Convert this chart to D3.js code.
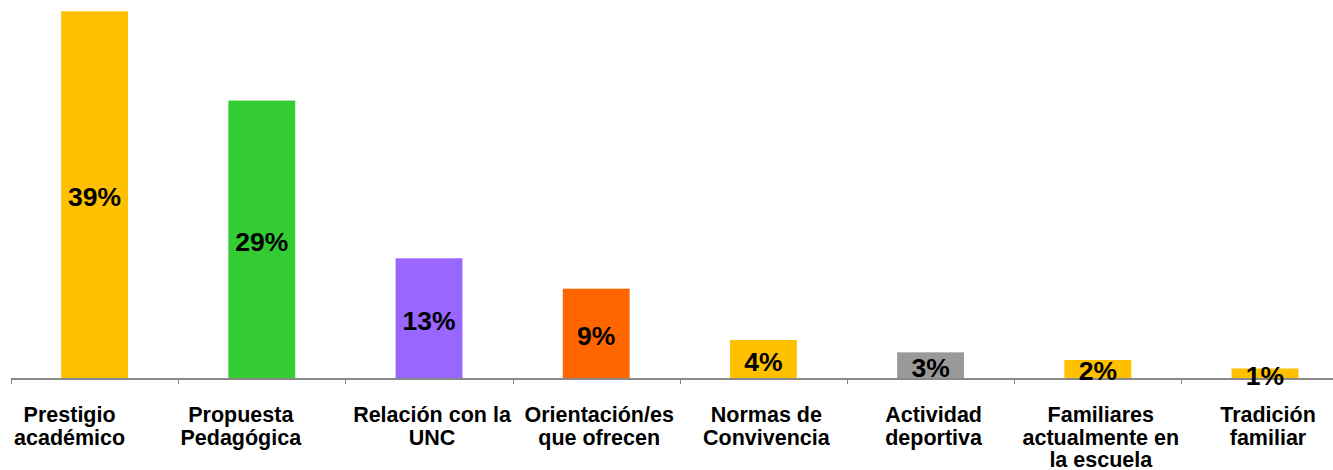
<!DOCTYPE html>
<html>
<head>
<meta charset="utf-8">
<script src="https://cdn.jsdelivr.net/npm/d3@7"></script>
<style>
  html, body { margin: 0; padding: 0; background: #fff; }
  svg { display: block; }
  text { font-family: "Liberation Sans", Arial, sans-serif; font-weight: bold; fill: #000; }
</style>
</head>
<body>
<svg id="chart" width="1333" height="470"></svg>
<script>
const categories = [
  "Prestigio académico",
  "Propuesta Pedagógica",
  "Relación con la UNC",
  "Orientación/es que ofrecen",
  "Normas de Convivencia",
  "Actividad deportiva",
  "Familiares actualmente en la escuela",
  "Tradición familiar"
];
const values = [38.6, 29.2, 12.6, 9.4, 4.0, 2.7, 1.9, 1.0];
const colors = ["#FFC000", "#33CC33", "#9966FF", "#FF6600", "#FFC000", "#999999", "#FFC000", "#FFC000"];

const svg = d3.select("#chart");
const baseY = 378;

const x = d3.scaleBand()
  .domain(categories)
  .range([11, 1348.6])
  .paddingInner(0.6)
  .paddingOuter(0.3);

const y = d3.scaleLinear()
  .domain([0, 40])
  .range([baseY, baseY - 380]);

const data = categories.map((c, i) => ({ c, v: values[i], color: colors[i], i }));

// bars
svg.append("g").selectAll("rect")
  .data(data)
  .join("rect")
  .attr("x", d => x(d.c))
  .attr("width", x.bandwidth())
  .attr("y", d => y(d.v))
  .attr("height", d => y(0) - y(d.v))
  .attr("fill", d => d.color);

// axis line and boundary ticks
const step = x.step();
const boundaries = categories.map(c => x(c) - step * 0.3);
const axisG = svg.append("g");
axisG.append("line")
  .attr("x1", 11).attr("x2", 1333)
  .attr("y1", baseY + 1).attr("y2", baseY + 1)
  .attr("stroke", "#888888").attr("stroke-width", 2);
axisG.selectAll("line.tick")
  .data(boundaries)
  .join("line")
  .attr("class", "tick")
  .attr("x1", d => Math.round(d) + 0.5).attr("x2", d => Math.round(d) + 0.5)
  .attr("y1", baseY + 1).attr("y2", baseY + 6)
  .attr("stroke", "#888888").attr("stroke-width", 1);

// value labels
const fmt = d => Math.round(d) + "%";
svg.append("g").selectAll("text")
  .data(data)
  .join("text")
  .attr("x", d => x(d.c) + x.bandwidth() / 2)
  .attr("y", d => (y(d.v) + y(0)) / 2 + 11.5)
  .attr("text-anchor", "middle")
  .style("font-size", "26.5px")
  .text(d => fmt(d.v));

// category labels with wrapping
const labelShift = i => (i === 0 ? -25 : i === 1 ? -21 : 3);
const catG = svg.append("g");
data.forEach(d => {
  const t = catG.append("text")
    .attr("text-anchor", "middle")
    .style("font-size", "21.5px");
  const cx = x(d.c) + x.bandwidth() / 2 + labelShift(d.i);
  const words = d.c.split(" ");
  let lines = [];
  let line = [];
  const probe = t.append("tspan");
  words.forEach(w => {
    const trial = line.concat([w]).join(" ");
    probe.text(trial);
    if (probe.node().getComputedTextLength() > 164 && line.length) {
      lines.push(line.join(" "));
      line = [w];
    } else {
      line.push(w);
    }
  });
  lines.push(line.join(" "));
  probe.remove();
  lines.forEach((l, k) => {
    t.append("tspan")
      .attr("x", cx)
      .attr("y", 422 + k * 22.7)
      .text(l);
  });
});
</script>
</body>
</html>
